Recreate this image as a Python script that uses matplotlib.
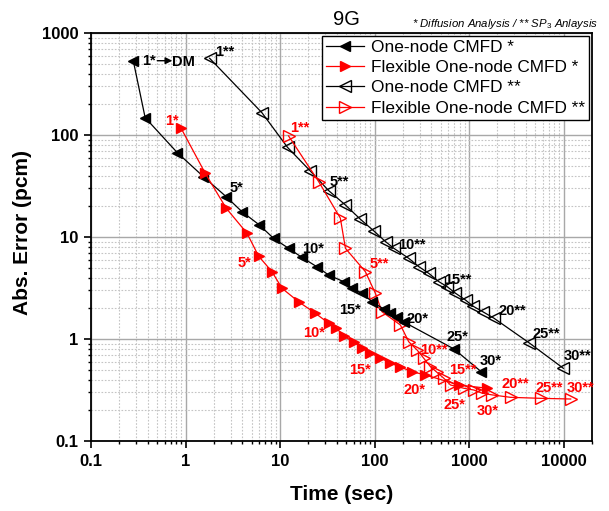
import matplotlib
matplotlib.use("Agg")
import matplotlib.pyplot as plt
from matplotlib.transforms import ScaledTranslation

plt.rcParams['font.family'] = ['Liberation Sans', 'DejaVu Sans']
plt.rcParams['mathtext.fontset'] = 'custom'
plt.rcParams['mathtext.rm'] = 'Liberation Sans'
plt.rcParams['mathtext.it'] = 'Liberation Sans:italic'

# ---------------- data ----------------
steps = list(range(1, 21)) + [25, 30]

one_diff_t = [0.28, 0.374, 0.82, 1.55, 2.70, 3.96, 6.0, 8.55, 12.3, 17.1, 24.6, 32.7,
              47, 58, 74, 94, 125, 147, 173, 204, 690, 1346]
one_diff_e = [535, 148, 67, 39, 24.8, 17.7, 13.2, 9.7, 7.75, 6.3, 5.1, 4.24,
              3.65, 3.14, 2.81, 2.32, 1.97, 1.80, 1.64, 1.47, 0.80, 0.478]

flex_diff_t = [0.90, 1.62, 2.70, 4.47, 5.93, 8.22, 10.5, 15.7, 23.6, 32.7, 39.5, 47.2,
               60.2, 74.5, 90.5, 115, 147, 188, 250, 346, 780, 1560]
flex_diff_e = [116, 42, 19.1, 10.9, 6.5, 4.57, 3.14, 2.32, 1.79, 1.43, 1.28, 1.07,
               0.935, 0.816, 0.729, 0.652, 0.582, 0.531, 0.478, 0.444, 0.354, 0.329]

one_sp3_t = [1.80, 6.45, 12.0, 20.9, 32.7, 49.2, 71, 98, 131, 160, 230, 294,
             375, 479, 587, 719, 918, 1100, 1400, 1833, 4300, 9950]
one_sp3_e = [565, 165, 75.7, 44.4, 28.5, 20.6, 14.9, 11.5, 9.0, 7.75, 6.18, 5.12,
             4.40, 3.65, 3.26, 2.81, 2.41, 2.10, 1.85, 1.60, 0.92, 0.516]

flex_sp3_t = [12.3, 25.6, 43.5, 49.2, 80, 102, 120, 188, 230, 282, 332, 391,
              453, 537, 637, 881, 1125, 1380, 1762, 2750, 5730, 11900]
flex_sp3_e = [98, 35, 15.3, 7.75, 4.57, 2.81, 1.85, 1.37, 0.94, 0.78, 0.647, 0.535,
              0.475, 0.415, 0.354, 0.329, 0.316, 0.294, 0.283, 0.268, 0.262, 0.258]

labelled_steps = [1, 5, 10, 15, 20, 25, 30]

series_names = ["One-node CMFD *", "Flexible One-node CMFD *",
                "One-node CMFD **", "Flexible One-node CMFD **"]

# ---------------- figure ----------------
fig = plt.figure(figsize=(6.09, 5.11), dpi=100)
ax = fig.add_axes([91 / 609, 1 - 441 / 511, 501 / 609, 408 / 511])
ax.set_xscale('log')
ax.set_yscale('log')
ax.set_xlim(0.1, 20000)
ax.set_ylim(0.1, 1000)

ax.grid(True, which='major', color='#a8a8a8', linewidth=1.0, linestyle='-')
ax.grid(True, which='minor', color='#c4c4c4', linewidth=0.8, linestyle=(0, (1.5, 1.5)))
ax.set_axisbelow(True)

lw = 0.9
ax.plot(one_diff_t, one_diff_e, color='black', lw=lw, marker='<', ms=7.5,
        mfc='black', mec='black', label=series_names[0], zorder=4)
ax.plot(flex_diff_t, flex_diff_e, color='red', lw=lw, marker='>', ms=7.5,
        mfc='red', mec='red', label=series_names[1], zorder=4)
ax.plot(one_sp3_t, one_sp3_e, color='black', lw=lw, marker='<', ms=8.5,
        mfc='none', mec='black', mew=1.0, label=series_names[2], zorder=3)
ax.plot(flex_sp3_t, flex_sp3_e, color='red', lw=lw, marker='>', ms=8.5,
        mfc='none', mec='red', mew=1.0, label=series_names[3], zorder=3)

# label offsets in pixels (dx right, dy down) relative to each labelled point
offs = {
    'one_diff': {1: (16, 0), 5: (10, -9), 10: (11, -8), 15: (-12, 17), 20: (14, -3),
                 25: (4, -12), 30: (9, -11)},
    'flex_diff': {1: (-9, -7), 5: (-14, 7), 10: (-15, 10), 15: (-10, 17), 20: (-11, 15),
                  25: (-4, 20), 30: (0, 23)},
    'one_sp3': {1: (15, -6), 5: (11, -9), 10: (18, -3), 15: (11, -7), 20: (18, -7),
                25: (17, -9), 30: (14, -12)},
    'flex_sp3': {1: (11, -8), 5: (14, -8), 10: (17, 0), 15: (12, -15), 20: (5, -13),
                 25: (9, -10), 30: (10, -11)},
}
series = {
    'one_diff': (one_diff_t, one_diff_e, 'black', '*'),
    'flex_diff': (flex_diff_t, flex_diff_e, 'red', '*'),
    'one_sp3': (one_sp3_t, one_sp3_e, 'black', '**'),
    'flex_sp3': (flex_sp3_t, flex_sp3_e, 'red', '**'),
}
px2pt = 72 / 100
for key, (tt, ee, col, star) in series.items():
    for s in labelled_steps:
        i = steps.index(s)
        dx, dy = offs[key][s]
        ax.annotate(f"{s}{star}", xy=(tt[i], ee[i]), xytext=(dx * px2pt, -dy * px2pt),
                    textcoords='offset points', ha='center', va='center',
                    fontsize=10.5, fontweight='bold', color=col, zorder=6)

# "1* -> DM" arrow
def off_tr(dx, dy):
    return ax.transData + ScaledTranslation(dx / 100, -dy / 100, fig.dpi_scale_trans)

x0, y0 = one_diff_t[0], one_diff_e[0]
ax.annotate('', xy=(x0, y0), xycoords=off_tr(39, 0),
            xytext=(x0, y0), textcoords=off_tr(24, 0),
            arrowprops=dict(arrowstyle='-|>', color='black', lw=1.0,
                            mutation_scale=10, shrinkA=0, shrinkB=0), zorder=6)
ax.text(x0, y0, 'DM', transform=off_tr(50, 1.5), ha='center', va='center',
        fontsize=10.5, fontweight='bold', color='black', zorder=6)

# axes styling
for sp in ax.spines.values():
    sp.set_linewidth(1.3)
    sp.set_color('black')
ax.tick_params(which='major', direction='out', length=5, width=1.2,
               labelsize=12, pad=4, top=False, right=False)
ax.tick_params(which='minor', direction='out', length=2.5, width=1.0,
               top=False, right=False)
ax.set_xticks([0.1, 1, 10, 100, 1000, 10000])
ax.set_xticklabels(['0.1', '1', '10', '100', '1000', '10000'])
ax.set_yticks([0.1, 1, 10, 100, 1000])
ax.set_yticklabels(['0.1', '1', '10', '100', '1000'])
for lab in ax.get_xticklabels() + ax.get_yticklabels():
    lab.set_fontweight('bold')

ax.set_xlabel('Time (sec)', fontsize=15, fontweight='bold')
ax.set_ylabel('Abs. Error (pcm)', fontsize=15, fontweight='bold')
ax.xaxis.set_label_coords(0.5, -0.108)
ax.yaxis.set_label_coords(-0.118, 0.51)

leg = ax.legend(loc='upper right', fontsize=12.4, frameon=True, fancybox=False,
                edgecolor='black', framealpha=1, borderpad=0.25, labelspacing=0.3,
                handlelength=2.2, handletextpad=0.4, borderaxespad=0.15)
leg.get_frame().set_linewidth(1.0)
leg.set_zorder(10)

fig.text(346 / 609, 1 - 19 / 511, '9G', ha='center', va='center', fontsize=14.5)
fig.text(598 / 609, 1 - 24 / 511, '* Diffusion Analysis / ** SP$_3$ Anlaysis',
         ha='right', va='center', fontsize=8.2, style='italic')

fig.savefig('out.png', dpi=100)
